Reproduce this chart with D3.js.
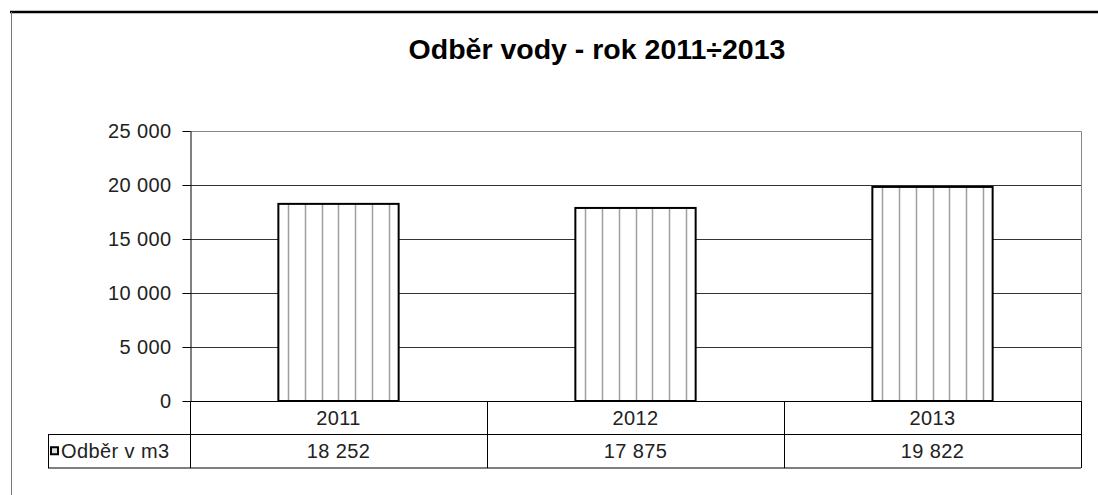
<!DOCTYPE html>
<html>
<head>
<meta charset="utf-8">
<script src="https://cdn.jsdelivr.net/npm/d3@7"></script>
<style>
  body { margin: 0; background: #fff; }
  svg { display: block; font-family: "Liberation Sans", Arial, sans-serif; }
</style>
</head>
<body>
<svg id="chart" width="1098" height="495"></svg>
<script>
// data
const title = "Odběr vody - rok 2011÷2013";
const years = ["2011", "2012", "2013"];
const values = [18252, 17875, 19822];
const seriesName = "Odběr v m3";
const yTicks = [0, 5000, 10000, 15000, 20000, 25000];

const svg = d3.select("#chart");

// plot area
const plotLeft = 190, plotRight = 1081, plotTop = 131, plotBottom = 401;
const rowH = 33.5;
const tableLeft = 48;
const labelSize = "20px";
const labelSpacing = "0.4px";

// thousands separated by a space
const fmt = (d) => d3.format(",")(d).replace(/,/g, " ");

const x = d3.scaleBand().domain(years).range([plotLeft, plotRight]).padding(0);
const y = d3.scaleLinear().domain([0, 25000]).range([plotBottom, plotTop]);

// outer frame of the chart object
svg.append("line")
  .attr("x1", 10).attr("x2", 1098).attr("y1", 12).attr("y2", 12)
  .attr("stroke", "#000").attr("stroke-width", 2.5);
svg.append("line")
  .attr("x1", 11.5).attr("x2", 11.5).attr("y1", 12).attr("y2", 495)
  .attr("stroke", "#777").attr("stroke-width", 1);

// title
svg.append("text")
  .attr("x", 597).attr("y", 59)
  .attr("text-anchor", "middle")
  .style("font-size", "28.5px")
  .style("font-weight", "bold")
  .text(title);

// gridlines
svg.append("g")
  .selectAll("line")
  .data(yTicks.filter((d) => d > 0 && d < 25000))
  .join("line")
  .attr("x1", plotLeft).attr("x2", plotRight)
  .attr("y1", (d) => Math.round(y(d)) + 0.5)
  .attr("y2", (d) => Math.round(y(d)) + 0.5)
  .attr("stroke", "#333");

// plot area border (top + right grey)
svg.append("path")
  .attr("d", `M${plotLeft},${plotTop + 0.5}H${plotRight + 0.5}V${plotBottom}`)
  .attr("fill", "none")
  .attr("stroke", "#888");

// bars
const barW = x.bandwidth() * 0.405;
const barX = (i) => x(years[i]) + (x.bandwidth() - barW) / 2;
const bars = svg.append("g")
  .selectAll("g")
  .data(values)
  .join("g");

bars.append("rect")
  .attr("x", (d, i) => barX(i))
  .attr("y", (d) => y(d))
  .attr("width", barW)
  .attr("height", (d) => plotBottom - y(d))
  .attr("fill", "#fff");

// vertical hatching inside bars
bars.each(function (d, i) {
  const x0 = barX(i);
  const inner = d3.range(7).map((k) => x0 + 10 + (k * (barW - 20)) / 6);
  d3.select(this)
    .selectAll("line.hatch")
    .data(inner)
    .join("line")
    .attr("class", "hatch")
    .attr("x1", (v) => Math.round(v) + 0.5)
    .attr("x2", (v) => Math.round(v) + 0.5)
    .attr("y1", y(d))
    .attr("y2", plotBottom)
    .attr("stroke", "#9e9e9e")
    .attr("stroke-width", 1.5);
});

bars.append("rect")
  .attr("x", (d, i) => barX(i))
  .attr("y", (d) => y(d))
  .attr("width", barW)
  .attr("height", (d) => plotBottom - y(d))
  .attr("fill", "none")
  .attr("stroke", "#000")
  .attr("stroke-width", 2);

// y axis
const yAxis = svg.append("g")
  .attr("transform", `translate(${plotLeft + 0.5},0)`)
  .call(d3.axisLeft(y).tickValues(yTicks).tickFormat(fmt).tickSizeInner(8).tickSizeOuter(0).tickPadding(11));
yAxis.select(".domain").attr("stroke", "#000");
yAxis.selectAll(".tick line").attr("stroke", "#000");
yAxis.selectAll("text")
  .style("font-family", "'Liberation Sans', Arial, sans-serif")
  .style("font-size", labelSize)
  .style("letter-spacing", labelSpacing)
  .attr("fill", "#222");

// data table below the plot
const table = svg.append("g").attr("stroke", "#000").attr("fill", "none");
// horizontal rules
table.append("line").attr("x1", plotLeft).attr("x2", plotRight).attr("y1", plotBottom + 0.5).attr("y2", plotBottom + 0.5);
table.append("line").attr("x1", tableLeft).attr("x2", plotRight).attr("y1", plotBottom + rowH).attr("y2", plotBottom + rowH);
table.append("line").attr("x1", tableLeft).attr("x2", plotRight).attr("y1", plotBottom + 2 * rowH).attr("y2", plotBottom + 2 * rowH);
// left border of the legend cell
table.append("line").attr("x1", tableLeft + 0.5).attr("x2", tableLeft + 0.5).attr("y1", plotBottom + rowH).attr("y2", plotBottom + 2 * rowH);
// column dividers
table.selectAll("line.col")
  .data(years.concat(["end"]))
  .join("line")
  .attr("class", "col")
  .attr("x1", (d) => (d === "end" ? plotRight + 0.5 : x(d) + 0.5))
  .attr("x2", (d) => (d === "end" ? plotRight + 0.5 : x(d) + 0.5))
  .attr("y1", plotBottom)
  .attr("y2", plotBottom + 2 * rowH);

// category labels
svg.append("g")
  .selectAll("text")
  .data(years)
  .join("text")
  .attr("x", (d) => x(d) + x.bandwidth() / 2)
  .attr("y", plotBottom + rowH / 2 + 7)
  .attr("text-anchor", "middle")
  .style("font-size", labelSize)
  .style("letter-spacing", labelSpacing)
  .attr("fill", "#222")
  .text((d) => d);

// values row
svg.append("g")
  .selectAll("text")
  .data(values)
  .join("text")
  .attr("x", (d, i) => x(years[i]) + x.bandwidth() / 2)
  .attr("y", plotBottom + rowH * 1.5 + 7)
  .attr("text-anchor", "middle")
  .style("font-size", labelSize)
  .style("letter-spacing", labelSpacing)
  .attr("fill", "#222")
  .text((d) => fmt(d));

// legend key + series name
svg.append("rect")
  .attr("x", 51).attr("y", plotBottom + rowH * 1.5 - 4)
  .attr("width", 7).attr("height", 7)
  .attr("fill", "#ddd")
  .attr("stroke", "#000")
  .attr("stroke-width", 2);
svg.append("text")
  .attr("x", 61)
  .attr("y", plotBottom + rowH * 1.5 + 7)
  .style("font-size", labelSize)
  .style("letter-spacing", labelSpacing)
  .attr("fill", "#222")
  .text(seriesName);
</script>
</body>
</html>
